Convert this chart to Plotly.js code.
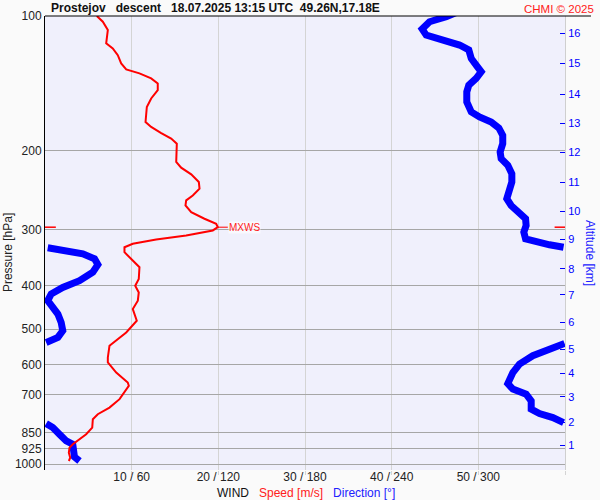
<!DOCTYPE html>
<html><head><meta charset="utf-8">
<script src="https://cdn.plot.ly/plotly-3.0.1.min.js"></script>
<style>html,body{margin:0;padding:0;background:#fafafa}</style>
</head><body>
<div id="chart" style="width:600px;height:500px"></div>
<script>
// Wind speed profile [m/s] vs pressure [hPa]
const speedPressure = [100, 103.0, 107.5, 115.1, 118.1, 122.3, 127.6, 131.6, 134.3, 137.8, 141.4, 146.4, 152.8, 159.6, 172.4, 176.9, 182.5, 187.8, 192.7, 201.2, 211.8, 218.0, 225.7, 234.8, 243.0, 251.5, 258.0, 264.8, 274.1, 283.5, 290.9, 296.1, 301.1, 309.0, 315.4, 322.5, 328.2, 336.7, 348.4, 363.8, 386.4, 399.9, 414.0, 432.0, 450.9, 478.7, 508.5, 530.8, 544.6, 578.4, 593.5, 624.9, 657.9, 669.1, 716.6, 748.3, 774.1, 794.3, 829.4, 858.1, 903.5, 919.5, 943.5, 968.1, 984.7];
const speedValues = [5.98, 6.67, 7.25, 7.06, 7.82, 8.40, 8.79, 9.37, 10.90, 12.25, 13.01, 13.01, 12.25, 11.75, 11.60, 12.25, 13.41, 14.56, 15.21, 15.21, 15.14, 15.71, 16.87, 17.75, 17.83, 17.05, 16.29, 16.21, 16.87, 18.40, 19.75, 19.94, 19.36, 16.29, 12.83, 10.13, 9.17, 9.17, 9.95, 10.90, 10.82, 10.41, 10.82, 10.71, 10.13, 10.59, 9.37, 8.22, 7.44, 7.25, 7.25, 8.22, 9.55, 9.67, 8.60, 7.44, 6.09, 5.52, 5.45, 4.75, 3.21, 2.83, 2.75, 2.91, 2.75];

// Wind direction [deg] vs pressure [hPa]; null = wrap between 360 and 0
const dirPressure = [98.1, 100.4, 103.0, 106.9, 110.3, 113.2, 116.1, 119.1, 124.4, 128.7, 133.2, 137.8, 142.7, 147.7, 155.5, 163.7, 168.0, 172.4, 177.8, 184.6, 192.7, 201.2, 208.2, 215.4, 224.9, 234.8, 245.1, 255.8, 264.8, 274.1, 283.5, 293.5, 303.8, 314.3, 319.8, 324.1, 328.2,
  null,
  329.2, 333.8, 339.5, 348.4, 358.8, 373.3, 389.8, 403.5, 417.4, 432.0, 447.2, 462.6, 482.9, 504.1, 521.8, 535.5,
  null,
  538.2, 554.0, 573.3, 598.4, 624.9, 661.3, 680.6, 698.4, 722.9, 754.5, 771.7, 787.8, 808.5,
  null,
  812.6, 829.4, 858.1, 888.3, 903.5, 935.3, 964.6, 984.7];
const dirValues = [285.1, 277.8, 266.2, 261.1, 263.9, 275.4, 287.0, 293.4, 295.1, 298.5, 302.0, 298.5, 293.4, 292.0, 292.0, 295.1, 300.8, 308.9, 314.2, 316.9, 316.9, 315.1, 315.8, 320.4, 323.2, 323.2, 321.1, 319.7, 322.7, 328.5, 332.7, 333.1, 331.5, 332.7, 340.1, 349.3, 359.0,
  null,
  1.9, 14.7, 26.2, 34.3, 36.6, 33.1, 23.9, 12.3, 4.3, 1.9, 5.4, 8.9, 11.2, 12.3, 8.9, 0.8,
  null,
  359.7, 349.3, 337.7, 328.5, 323.9, 320.4, 323.9, 333.1, 336.6, 336.6, 342.3, 351.6, 359.0,
  null,
  0.8, 5.4, 10.0, 14.7, 19.2, 20.4, 20.4, 23.9];

// Axis ticks
const pressureTicks = [100, 200, 300, 400, 500, 600, 700, 850, 925, 1000];
const dirTicks = [60, 120, 180, 240, 300, 360];
const windTickText = ['10 / 60', '20 / 120', '30 / 180', '40 / 240', '50 / 300', ''];
const altitudeKm = [1, 2, 3, 4, 5, 6, 7, 8, 9, 10, 11, 12, 13, 14, 15, 16];
const altitudePressure = [907, 808, 708, 628, 554, 482, 419.5, 366.8, 314.9, 272.6, 235.2, 201.5, 173.8, 149.4, 127.6, 109.3];

// Max wind
const maxWindSpeed = [19.94];
const maxWindPressure = [296.1];
const markLeft = [0, 1.25];
const markRight = [58.8, 60.3];

const pRange = [3.0134, 2];
const FONT = 'Liberation Sans, Arial, Helvetica, sans-serif';

const traces = [
  {x: dirValues, y: dirPressure, xaxis: 'x', yaxis: 'y', type: 'scatter', mode: 'lines',
   line: {color: '#0000ff', width: 7}, connectgaps: false, hoverinfo: 'skip'},
  {x: speedValues, y: speedPressure, xaxis: 'x2', yaxis: 'y2', type: 'scatter', mode: 'lines',
   line: {color: '#ff0000', width: 2}, hoverinfo: 'skip'},
  {x: markLeft, y: [maxWindPressure[0], maxWindPressure[0]], xaxis: 'x2', yaxis: 'y2', mode: 'lines',
   line: {color: '#ff0000', width: 1.5}, hoverinfo: 'skip'},
  {x: markRight, y: [maxWindPressure[0], maxWindPressure[0]], xaxis: 'x2', yaxis: 'y2', mode: 'lines',
   line: {color: '#ff0000', width: 1.5}, hoverinfo: 'skip'}
];

const layout = {
  width: 600, height: 500,
  margin: {l: 45, r: 35, t: 16, b: 30, pad: 0},
  paper_bgcolor: '#fafafa', plot_bgcolor: '#f0f0fc',
  showlegend: false,
  font: {family: FONT, size: 12, color: '#222'},
  xaxis: {range: [0, 360], tickvals: dirTicks, ticktext: windTickText,
    showgrid: true, gridcolor: '#d4d4d4', gridwidth: 1,
    ticks: 'outside', ticklen: 4, tickcolor: '#d4d4d4', tickwidth: 1,
    ticklabelstandoff: -8,
    zeroline: false, showline: false, tickfont: {size: 12, color: '#222'}},
  yaxis: {type: 'log', range: pRange, tickvals: pressureTicks, ticktext: pressureTicks.map(String),
    showgrid: true, gridcolor: '#a6a6a6', gridwidth: 1,
    showline: true, linecolor: '#000', linewidth: 1, ticks: '', zeroline: false,
    tickfont: {size: 12, color: '#222'}},
  xaxis2: {overlaying: 'x', range: [0, 60], visible: false, anchor: 'y2'},
  yaxis2: {overlaying: 'y', type: 'log', range: pRange, side: 'right', anchor: 'x2',
    tickvals: altitudePressure, ticktext: altitudeKm.map(String),
    ticks: 'inside', ticklen: 5, tickcolor: '#0000ff', tickwidth: 1,
    showgrid: false, showline: true, linecolor: '#cfcfcf', linewidth: 1, zeroline: false,
    tickfont: {size: 11, color: '#0000ff'}},
  shapes: [
    {type: 'line', xref: 'paper', yref: 'paper', x0: 0, x1: 1.05, y0: 1, y1: 1,
     line: {color: '#000', width: 1}}
  ],
  annotations: [
    {xref: 'paper', yref: 'paper', x: 0.008, y: 1, xanchor: 'left', yanchor: 'bottom', yshift: -1,
     text: '<b>Prostejov   descent   18.07.2025 13:15 UTC  49.26N,17.18E</b>', showarrow: false,
     font: {family: FONT, size: 12, color: '#111'}},
    {xref: 'paper', yref: 'paper', x: 1.0595, y: 1, xanchor: 'right', yanchor: 'bottom', yshift: -1,
     text: 'CHMI © 2025', showarrow: false, font: {family: FONT, size: 11.5, color: '#ff2020'}},
    {xref: 'paper', yref: 'paper', x: -0.071, y: 0.478, textangle: -90, xanchor: 'center', yanchor: 'middle',
     text: 'Pressure [hPa]', showarrow: false, font: {family: FONT, size: 12, color: '#222'}},
    {xref: 'paper', yref: 'paper', x: 1.048, y: 0.478, textangle: 90, xanchor: 'center', yanchor: 'middle',
     text: 'Altitude [km]', showarrow: false, font: {family: FONT, size: 12, color: '#2020ff'}},
    {xref: 'paper', yref: 'paper', x: 0.502, y: -0.05, xanchor: 'center', yanchor: 'middle',
     text: '<span style="color:#111">WIND</span>   <span style="color:#ff2020">Speed [m/s]</span>   <span style="color:#2020ff">Direction [°]</span>',
     showarrow: false, font: {family: FONT, size: 12}, borderpad: 0},
    {xref: 'x2', yref: 'y2', x: maxWindSpeed[0], y: Math.log10(maxWindPressure[0]),
     text: 'MXWS', showarrow: true, arrowhead: 0, arrowwidth: 1, arrowcolor: '#ff0000',
     ax: 10, ay: 0, xanchor: 'left', yanchor: 'middle', bgcolor: 'rgba(255,255,255,0.6)',
     font: {family: FONT, size: 10, color: '#ff2020'}, borderpad: 0}
  ]
};

Plotly.newPlot('chart', traces, layout, {staticPlot: true, displayModeBar: false});
</script>
</body></html>
